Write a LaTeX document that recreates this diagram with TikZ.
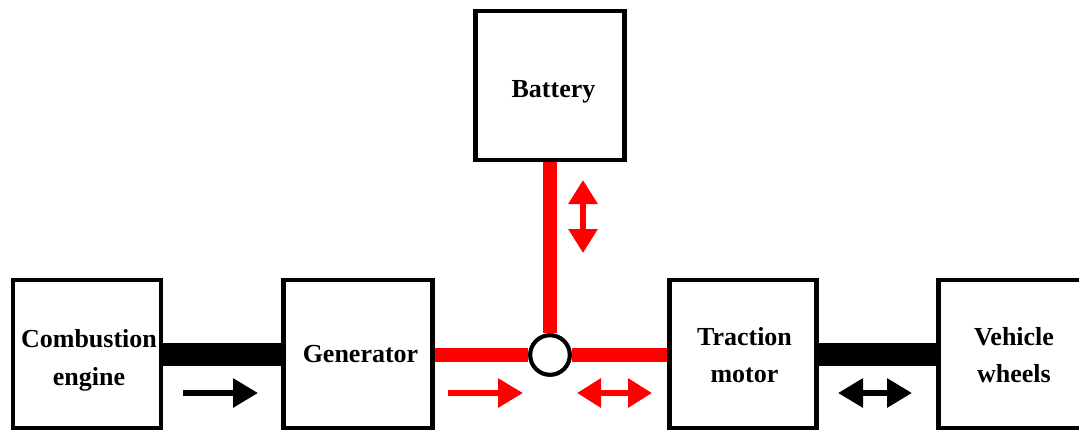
\documentclass[tikz,border=0pt]{standalone}
\usepackage{fontspec}
\setmainfont{Liberation Serif}
\usetikzlibrary{arrows.meta}
\begin{document}
\begin{tikzpicture}[x=1pt,y=-1pt,
  box/.style={draw=black,line width=4.5pt,fill=white,inner sep=0pt,rectangle},
  lbl/.style={font=\bfseries\fontsize{26}{30}\selectfont,inner sep=0pt,anchor=base},
  shaft/.style={line width=23pt,black},
  bus/.style={line width=14.5pt,red},
  flowk/.style={line width=6pt,black,-{Triangle[length=25pt,width=28pt]}},
  flowkk/.style={line width=6pt,black,{Triangle[length=25pt,width=28pt]}-{Triangle[length=25pt,width=28pt]}},
  flowr/.style={line width=6pt,red,-{Triangle[length=25pt,width=28pt]}},
  flowrr/.style={line width=6pt,red,{Triangle[length=24pt,width=28pt]}-{Triangle[length=24pt,width=28pt]}}]
\useasboundingbox (0,0) rectangle (1079,432);
\clip (0,0) rectangle (1079,432);
% boxes
\node[box,minimum width=148pt,minimum height=148pt] (ce) at (87,354) {};
\node[box,minimum width=149pt,minimum height=148pt] (gen) at (358,354) {};
\node[box,minimum width=147pt,minimum height=148pt] (tm) at (743,354) {};
\node[box,minimum width=160pt,minimum height=148pt] (vw) at (1018.5,354) {};
\node[box,minimum width=149pt,minimum height=149pt] (bat) at (550,85.5) {};
\node[draw=black,line width=4pt,fill=white,circle,inner sep=0pt,minimum size=39.5pt] (j) at (550,355) {};
% connectors
\draw[shaft] (ce.east) -- (gen.west);
\draw[shaft] (tm.east) -- (vw.west);
\draw[bus] (gen.east |- j) -- (j.west);
\draw[bus] (j.east) -- (tm.west |- j);
\draw[bus] (bat.south) -- (j.north);
% redraw circle on top
\node[draw=black,line width=4pt,fill=white,circle,inner sep=0pt,minimum size=39.5pt] at (j) {};
% flow arrows
\coordinate (a1) at (183,393); \coordinate (a2) at (258,393);
\coordinate (b1) at (448,393); \coordinate (b2) at (523,393);
\coordinate (c1) at (577,393); \coordinate (c2) at (652,393);
\coordinate (d1) at (838,393); \coordinate (d2) at (912,393);
\coordinate (e1) at (583,180); \coordinate (e2) at (583,253);
\draw[flowk] (a1) -- (a2);
\draw[flowr] (b1) -- (b2);
\draw[flowrr] (c1) -- (c2);
\draw[flowkk] (d1) -- (d2);
\draw[flowrr] (e1) -- (e2);
% labels
\node[lbl] (t1) at (89,347) {Combustion};
\node[lbl] (t2) at (89,385) {engine};
\node[lbl] (t3) at (360.5,362) {Generator};
\node[lbl] (t4) at (744.5,345) {Traction};
\node[lbl] (t5) at (744.5,382) {motor};
\node[lbl] (t6) at (1014,345) {Vehicle};
\node[lbl] (t7) at (1014,382) {wheels};
\node[lbl] (t8) at (553.5,97) {Battery};
\end{tikzpicture}
\end{document}
